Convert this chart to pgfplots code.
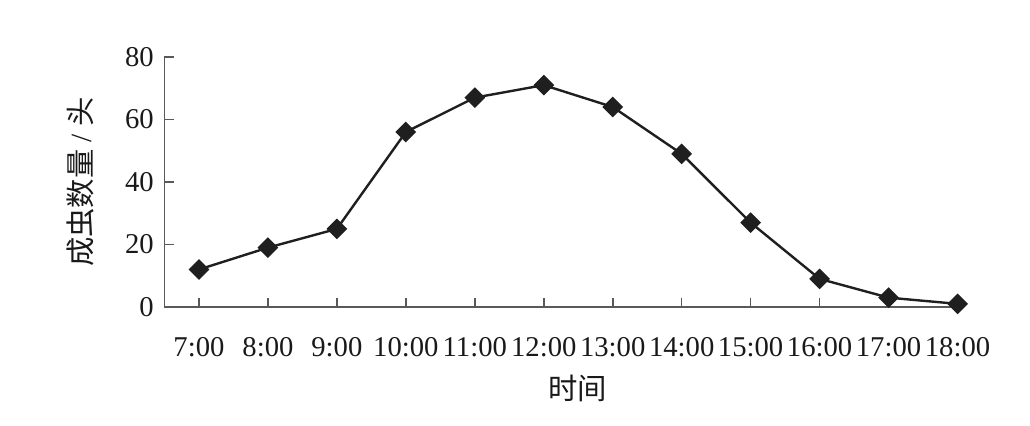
\documentclass[border=0pt]{standalone}
\usepackage{pgfplots}
\pgfplotsset{compat=1.18}
\usepackage{fontspec}
\setmainfont{Liberation Serif}
\newfontfamily\cjk{Noto Sans CJK SC}
\begin{document}
\begin{tikzpicture}
\path[use as bounding box] (-123.375pt,-88.5pt) rectangle (649.125pt,230.25pt);
\begin{axis}[
  scale only axis,
  width=594.75pt, height=187.5pt,
  clip=false,
  xmin=-0.5, xmax=11,
  ymin=0, ymax=80,
  axis x line*=bottom, axis y line*=left,
  axis line style={-, draw=black!65, line width=1.4pt},
  tick align=inside,
  major tick length=7pt,
  tick style={draw=black!65, line width=1.2pt},
  xtick={0,...,11},
  xticklabels={7:00,8:00,9:00,10:00,11:00,12:00,13:00,14:00,15:00,16:00,17:00,18:00},
  ytick={0,20,40,60,80},
  /pgf/number format/assume math mode=true,
  ticklabel style={font=\fontsize{21.5}{24}\selectfont, text=black!90},
  xticklabel style={yshift=-19pt},
  yticklabel style={xshift=-4.5pt},
  xlabel={\cjk 时间},
  ylabel={{\cjk 成虫数量}\ /\ {\cjk 头}},
  label style={font=\fontsize{22}{24}\selectfont, text=black!90},
  xlabel style={at={(axis description cs:0.5214,-0.324)}, anchor=center},
  ylabel style={at={(axis description cs:-0.1066,0.5)}, anchor=center},
]
\addplot[color=black!88, line width=1.8pt, mark=square*, mark size=4.6pt,
  mark options={rotate=45, solid, fill=black!88}]
  coordinates {
  (0,12) (1,19) (2,25) (3,56) (4,67) (5,71) (6,64) (7,49) (8,27) (9,9) (10,3) (11,1)
  };
\end{axis}
\end{tikzpicture}
\end{document}
